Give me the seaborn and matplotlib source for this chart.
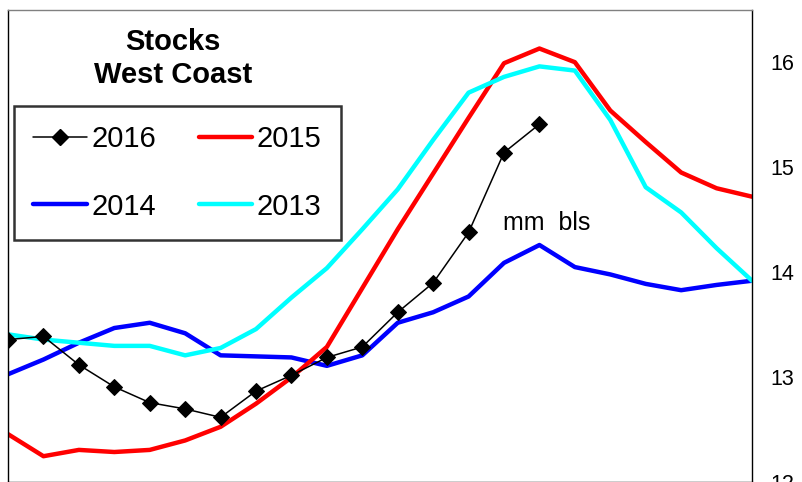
import matplotlib
matplotlib.use('Agg')
import matplotlib.pyplot as plt
import seaborn as sns
from matplotlib.lines import Line2D

# Weekly West Coast stocks, million barrels
weeks = list(range(22))
s2016 = [13.36, 13.39, 13.12, 12.91, 12.76, 12.70, 12.62, 12.87, 13.02, 13.19, 13.29,
         13.62, 13.90, 14.38, 15.14, 15.41]
s2015 = [12.46, 12.25, 12.31, 12.29, 12.31, 12.40, 12.53, 12.75, 13.00, 13.29, 13.85,
         14.41, 14.94, 15.47, 15.99, 16.13, 16.00, 15.54, 15.24, 14.95, 14.80, 14.72]
s2014 = [13.03, 13.17, 13.33, 13.47, 13.52, 13.42, 13.21, 13.20, 13.19, 13.11, 13.21,
         13.52, 13.62, 13.77, 14.09, 14.26, 14.05, 13.98, 13.89, 13.83, 13.88, 13.92]
s2013 = [13.41, 13.36, 13.33, 13.30, 13.30, 13.21, 13.28, 13.46, 13.76, 14.04, 14.41,
         14.79, 15.26, 15.71, 15.86, 15.96, 15.92, 15.45, 14.81, 14.57, 14.23, 13.92]
yticks = [12, 13, 14, 15, 16]

sns.set_style('white')
plt.rcParams['font.family'] = ['Liberation Sans', 'DejaVu Sans']
plt.rcParams['text.color'] = 'black'
plt.rcParams['ytick.color'] = 'black'
plt.rcParams['legend.labelcolor'] = 'black'

fig = plt.figure(figsize=(8.03, 4.82), dpi=100)
ax = fig.add_axes([0.01, -0.001, 0.9265, 0.981])

# Draw order: blue, red, cyan, then black markers on top
sns.lineplot(x=weeks, y=s2014, ax=ax, color='#0000FF', lw=3.2)
sns.lineplot(x=weeks, y=s2015, ax=ax, color='#FF0000', lw=3.2)
sns.lineplot(x=weeks, y=s2013, ax=ax, color='#00FFFF', lw=3.2)
sns.lineplot(x=weeks[:len(s2016)], y=s2016, ax=ax, color='black', lw=1.1,
             marker='D', markersize=8, markeredgecolor='black')

ax.set_xlim(0, 21)
ax.set_ylim(12, 16.5)
ax.set_xticks([])
ax.yaxis.tick_right()
ax.set_yticks(yticks)
ax.set_yticklabels([str(t) for t in yticks])
ax.tick_params(axis='y', length=0, pad=13, labelsize=15.5, labelcolor='black')
ax.set_xlabel('')
ax.set_ylabel('')

for side in ['left', 'right', 'bottom']:
    ax.spines[side].set_color('black')
    ax.spines[side].set_linewidth(1)
ax.spines['top'].set_color('#808080')
ax.spines['top'].set_linewidth(1)

ax.text(13.97, 14.405, 'mm  bls', fontsize=18, ha='left', va='baseline', color='black')

fig.text(173 / 803, 1 - 58.5 / 482, 'Stocks\nWest Coast', fontsize=21,
         fontweight='bold', ha='center', va='center', linespacing=1.27, color='black')

handles = [
    Line2D([], [], color='black', lw=1.1, marker='D', markersize=8),
    Line2D([], [], color='#0000FF', lw=3.2),
    Line2D([], [], color='#FF0000', lw=3.2),
    Line2D([], [], color='#00FFFF', lw=3.2),
]
labels = ['2016', '2014', '2015', '2013']
leg = ax.legend(handles, labels, ncol=2, loc='upper left',
                bbox_to_anchor=(14 / 803, 1 - 106 / 482), bbox_transform=fig.transFigure,
                fontsize=21, frameon=True, fancybox=False, edgecolor='black',
                handlelength=1.83, handletextpad=0.17, columnspacing=1.45,
                labelspacing=1.35, borderpad=0.66, borderaxespad=0)
leg.get_frame().set_linewidth(1.8)

fig.savefig('out.png', dpi=100)
